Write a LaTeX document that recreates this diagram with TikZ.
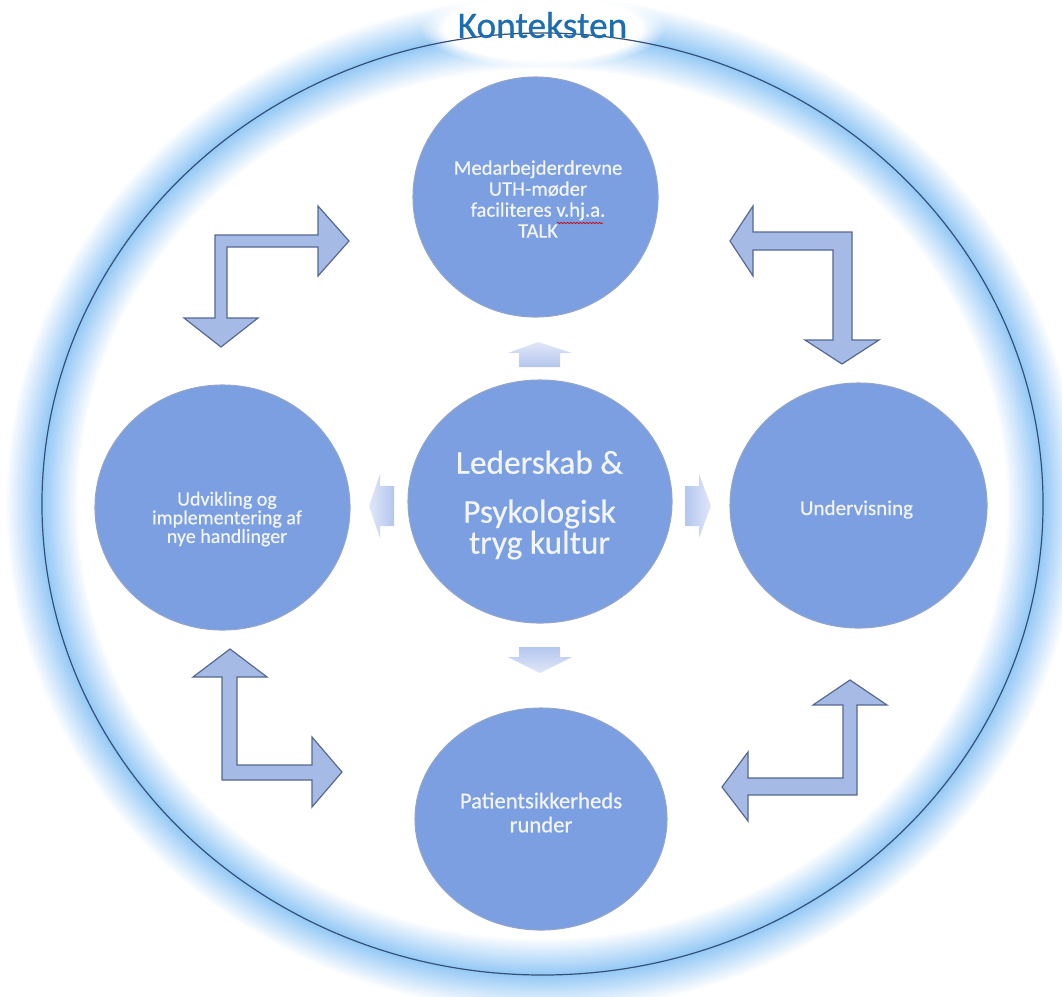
\documentclass[tikz,border=0pt]{standalone}
\usepackage{fontspec}
\setmainfont{Carlito}[FakeBold=0.5]
\usetikzlibrary{shapes.geometric, decorations.pathmorphing, fadings}

\definecolor{bubblefill}{RGB}{123,159,225}
\definecolor{bubblerim}{RGB}{146,165,204}
\definecolor{bentfill}{RGB}{166,186,230}
\definecolor{bentline}{RGB}{86,104,146}
\definecolor{hintdark}{RGB}{180,198,238}
\definecolor{hintlight}{RGB}{224,231,248}
\definecolor{glowblue}{RGB}{112,182,242}
\definecolor{ringline}{RGB}{52,80,118}
\definecolor{titleblue}{RGB}{28,110,176}
\definecolor{softwhite}{RGB}{242,245,252}

% Flat centre, slightly darker band just inside the edge
\pgfdeclareradialshading{bubbleshade}{\pgfpoint{0bp}{0bp}}{%
  color(0bp)=(bubblefill); color(41bp)=(bubblefill); color(47bp)=(bubblefill!90!black);
  color(49bp)=(bubblefill!94!white); color(50bp)=(bubblefill!85!white)}

\tikzset{
  bubble/.style={ellipse, shade, shading=bubbleshade, draw=bubblerim, line width=0.8pt, inner sep=0pt},
  bubbletext/.style={inner sep=0pt, align=center, text=softwhite},
  bent/.style={fill=bentfill, draw=bentline, line width=0.9pt, line join=miter},
  hint/.style={draw=none},
}

\begin{document}
\begin{tikzpicture}[x=0.75pt, y=-0.75pt]
    \useasboundingbox (0,0) rectangle (1062,996);

    % Soft halo round the outer ring
    \coordinate (mid) at (542.5,504);
    \foreach \i in {0,...,23} {
        \pgfmathsetmacro\w{54-2.2*\i}
        \pgfmathsetmacro\p{3*\i+3}
        \draw[glowblue!\p!white, line width=\w pt] (mid) ellipse [x radius=375.4pt, y radius=353.25pt];
    }

    % White haze behind the title
    \fill[white, path fading=circle with fuzzy edge 20 percent] (542.5,28) ellipse [x radius=92pt, y radius=30pt];
    \fill[white, path fading=circle with fuzzy edge 20 percent] (542.5,28) ellipse [x radius=80pt, y radius=22pt];

    % Outer ring
    \draw[ringline, line width=0.9pt] (mid) ellipse [x radius=375.4pt, y radius=353.25pt];
    \node[inner sep=0pt, text=titleblue, font=\fontsize{28}{30}\selectfont] (ctx) at (542.5,25) {Konteksten};

    % The five circles
    \node[bubble, minimum width=183.75pt, minimum height=180pt] (top) at (535.5,197) {};
    \node[bubble, minimum width=198pt, minimum height=182.25pt] (core) at (540,501.5) {};
    \node[bubble, minimum width=191.25pt, minimum height=183.75pt] (left) at (222.5,507.5) {};
    \node[bubble, minimum width=192.75pt, minimum height=183.75pt] (right) at (858.5,505.5) {};
    \node[bubble, minimum width=189pt, minimum height=166.5pt] (bottom) at (541,819) {};

    % Texts in the circles
    \node[bubbletext, font=\fontsize{15.5}{15.75}\selectfont] (top-txt) at (538,199)
        {Medarbejderdrevne\\UTH-møder\\faciliteres v.hj.a.\\TALK};
    \node[bubbletext, font=\fontsize{25}{23.25}\selectfont] (core-txt) at (539.5,505)
        {Lederskab \&\\[13.5pt]Psykologisk\\tryg kultur};
    \node[bubbletext, font=\fontsize{15}{12.75}\selectfont] (left-txt) at (227,519)
        {Udvikling og\\implementering af\\nye handlinger};
    \node[bubbletext, font=\fontsize{15.8}{16}\selectfont] (right-txt) at (856.5,509.5) {Undervisning};
    \node[bubbletext, font=\fontsize{17}{18}\selectfont] (bottom-txt) at (541,812.5)
        {Patientsikkerheds\\runder};

    % Spell-check mark
    \draw[red!80!black, line width=0.5pt, decorate, decoration={snake, amplitude=0.5pt, segment length=2.4pt}]
        (557,223) -- (603,223);

    % Small arrows out of the middle circle
    \path[hint, top color=hintlight, bottom color=hintdark]
        (538,342) -- (572,353) -- (560,353) -- (560,367) -- (519,367) -- (519,353) -- (508,353) -- cycle;
    \path[hint, top color=hintdark, bottom color=hintlight]
        (519,647) -- (560,647) -- (560,657) -- (572,657) -- (540,673) -- (508,657) -- (519,657) -- cycle;
    \path[hint, left color=hintlight, right color=hintdark]
        (369,506) -- (380,474) -- (380,486) -- (394,486) -- (394,526) -- (380,526) -- (380,538) -- cycle;
    \path[hint, left color=hintdark, right color=hintlight]
        (685,486) -- (699,486) -- (699,474) -- (711,506) -- (699,538) -- (699,526) -- (685,526) -- cycle;

    % Bent arrows between the outer circles
    \draw[bent] (215,235) -- (318,235) -- (318,206) -- (349,241) -- (318,276) -- (318,247) -- (227,247)
        -- (227,318) -- (258,318) -- (221,347) -- (184,318) -- (215,318) -- cycle;
    \draw[bent] (852,232) -- (852,340) -- (879,340) -- (842,364) -- (805,340) -- (833,340) -- (833,250)
        -- (753,250) -- (753,276) -- (730,241) -- (753,206) -- (753,232) -- cycle;
    \draw[bent] (222,780) -- (222,677) -- (193,677) -- (230,649) -- (267,677) -- (237,677) -- (237,765)
        -- (312,765) -- (312,737) -- (342,772) -- (312,807) -- (312,780) -- cycle;
    \draw[bent] (857,795) -- (857,705) -- (887,705) -- (850,680) -- (813,705) -- (843,705) -- (843,778)
        -- (748,778) -- (748,752) -- (722,787) -- (748,821) -- (748,795) -- cycle;
\end{tikzpicture}
\end{document}
